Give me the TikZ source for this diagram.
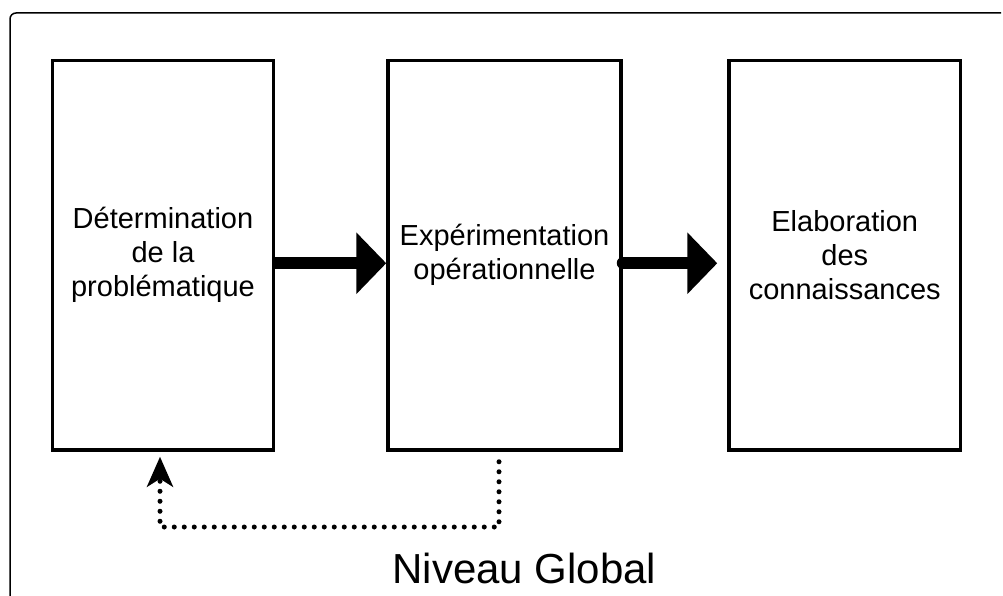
\documentclass[tikz,border=0pt]{standalone}
\usepackage{fontspec}
\setmainfont{Liberation Sans}
\usetikzlibrary{arrows.meta}
\tikzset{
  stagebox/.style={draw, line width=3.5pt, minimum height=389.5pt, inner sep=0pt,
    align=center, font=\fontsize{29}{34}\selectfont},
  bigarrow/.style={line width=12pt, -{Triangle[length=30pt,width=60pt]}},
  dotline/.style={line width=5pt, line cap=round, dash pattern=on 0pt off 10pt,
    -{Stealth[length=30pt,width=26pt,inset=8pt]}},
  frame/.style={line width=1.5pt, rounded corners=6pt}
}
\begin{document}
\begin{tikzpicture}[x=1pt,y=-1pt]
\useasboundingbox (0,0) rectangle (1003,596);
\draw[frame] (1001,13) -- (10,13) -- (10,605);
\node[stagebox, minimum width=221pt] (b1) at (163,255.25) {Détermination\\de la\\problématique};
\node[stagebox, minimum width=233pt] (b2) at (504.5,255.25) {Expérimentation\\opérationnelle};
\node[stagebox, minimum width=231.5pt] (b3) at (844.75,255.25) {Elaboration\\des\\connaissances};
\draw[bigarrow] ([yshift=-8pt]b1.east) -- ([yshift=-8pt]b2.west);
\draw[bigarrow, line cap=round] ([yshift=-8pt]b2.east) -- ([xshift=-10pt,yshift=-8pt]b3.west);
\coordinate (d1) at (499,527);
\coordinate (d2) at (160,527);
\draw[dotline] ([xshift=-5.5pt,yshift=-10pt]b2.south) -- (d1) -- (d2) -- ([xshift=-3pt,yshift=-5pt]b1.south);
\node[anchor=base, font=\fontsize{42}{48}\selectfont, inner sep=0pt] (lbl) at (524.5,583) {Niveau Global};
\end{tikzpicture}
\end{document}
